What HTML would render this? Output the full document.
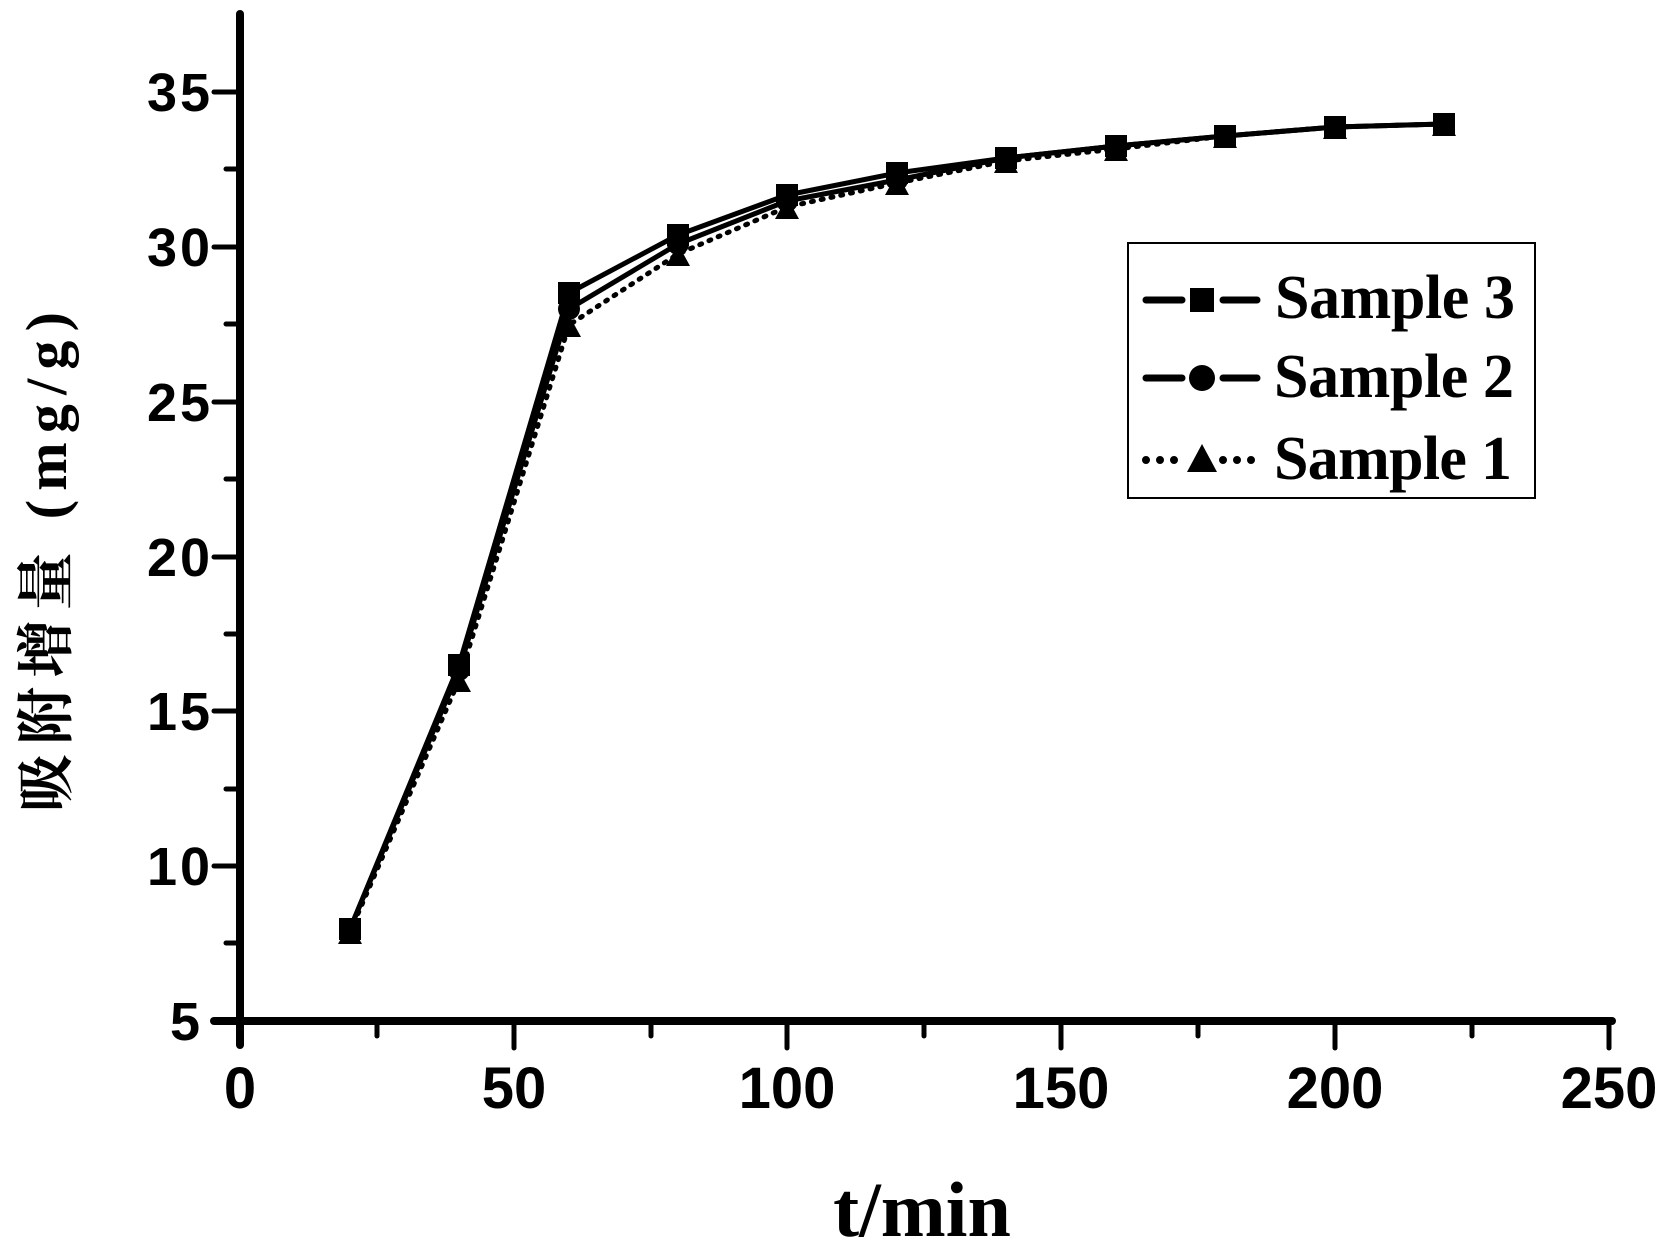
<!DOCTYPE html>
<html><head><meta charset="utf-8"><style>html,body{margin:0;padding:0;background:#fff}svg{display:block}</style></head>
<body>
<svg width="1671" height="1252" viewBox="0 0 1671 1252" xmlns="http://www.w3.org/2000/svg">
<rect width="1671" height="1252" fill="#fff"/>
<g stroke="#000" stroke-linecap="round">
<line x1="240" y1="14" x2="240" y2="1045" stroke-width="8"/>
<line x1="214" y1="1021" x2="1612" y2="1021" stroke-width="8"/>
<!-- y ticks -->
<g stroke-width="5">
<line x1="214" y1="92" x2="240" y2="92"/>
<line x1="214" y1="247" x2="240" y2="247"/>
<line x1="214" y1="402" x2="240" y2="402"/>
<line x1="214" y1="557" x2="240" y2="557"/>
<line x1="214" y1="711" x2="240" y2="711"/>
<line x1="214" y1="866" x2="240" y2="866"/>
<line x1="226" y1="169" x2="240" y2="169"/>
<line x1="226" y1="324" x2="240" y2="324"/>
<line x1="226" y1="479" x2="240" y2="479"/>
<line x1="226" y1="634" x2="240" y2="634"/>
<line x1="226" y1="789" x2="240" y2="789"/>
<line x1="226" y1="943" x2="240" y2="943"/>
<!-- x ticks -->
<line x1="514" y1="1021" x2="514" y2="1048"/>
<line x1="787" y1="1021" x2="787" y2="1048"/>
<line x1="1061" y1="1021" x2="1061" y2="1048"/>
<line x1="1335" y1="1021" x2="1335" y2="1048"/>
<line x1="1609" y1="1021" x2="1609" y2="1048"/>
<line x1="377" y1="1021" x2="377" y2="1036"/>
<line x1="651" y1="1021" x2="651" y2="1036"/>
<line x1="924" y1="1021" x2="924" y2="1036"/>
<line x1="1198" y1="1021" x2="1198" y2="1036"/>
<line x1="1472" y1="1021" x2="1472" y2="1036"/>
</g>
</g>
<g font-family="Liberation Sans, sans-serif" font-weight="bold" font-size="54" text-anchor="end">
<text x="210" y="111" textLength="63">35</text>
<text x="210" y="266" textLength="63">30</text>
<text x="210" y="421" textLength="63">25</text>
<text x="210" y="576" textLength="63">20</text>
<text x="210" y="730" textLength="63">15</text>
<text x="210" y="885" textLength="63">10</text>
<text x="200" y="1040">5</text>
</g>
<g font-family="Liberation Sans, sans-serif" font-weight="bold" font-size="58" text-anchor="middle">
<text x="240" y="1108">0</text>
<text x="514" y="1108">50</text>
<text x="787" y="1108">100</text>
<text x="1061" y="1108">150</text>
<text x="1335" y="1108">200</text>
<text x="1609" y="1108">250</text>
</g>
<text x="922" y="1236" font-family="Liberation Serif, serif" font-weight="bold" font-size="78" text-anchor="middle">t/min</text>
<text transform="translate(66,562) rotate(-90)" font-family="Liberation Serif, 'Noto Serif CJK SC', serif" font-weight="bold" font-size="58" text-anchor="middle" textLength="500">吸附增量 (mg/g)</text>
<!-- series -->
<g fill="none" stroke="#000" stroke-width="5" stroke-linejoin="round">
<polyline stroke-dasharray="2 8" stroke-linecap="round" points="350,880 459,529 569,172 678,104 787,58 897,30 1006,8 1116,-5 1225,-13 1335,-23 1444,-26" transform="translate(0,0)" style="display:none"/>
<polyline stroke-dasharray="2 9" stroke-linecap="round" points="350,876 459,529 569,173 678,102 787,55 897,34 1006,12 1116,1 1225,-11 1335,-21 1444,-24" style="display:none"/>
</g>
<g fill="none" stroke="#000" stroke-width="5" stroke-linejoin="round">
<!-- Sample 1 dotted: y = 1021-(v-5)*30.97 -->
<polyline stroke-dasharray="2 8" stroke-linecap="round" points="350,932 459,680 569,325 678,254 787,207 897,183 1006,161 1116,149 1225,136 1335,127 1444,124"/>
<!-- Sample 2 -->
<polyline points="350,929 459,670 569,309 678,244 787,201 897,180 1006,158 1116,146 1225,136 1335,127 1444,124"/>
<!-- Sample 3 -->
<polyline points="350,929 459,665 569,293 678,235 787,195 897,173 1006,158 1116,146 1225,136 1335,127 1444,124"/>
</g>
<g fill="#000">
<!-- triangles -->
<g>
<polygon points="350,922 338,944 362,944"/><polygon points="459,670 447,692 471,692"/><polygon points="569,315 557,337 581,337"/><polygon points="678,244 666,266 690,266"/><polygon points="787,197 775,219 799,219"/><polygon points="897,173 885,195 909,195"/><polygon points="1006,151 994,173 1018,173"/><polygon points="1116,139 1104,161 1128,161"/><polygon points="1225,126 1213,148 1237,148"/><polygon points="1335,117 1323,139 1347,139"/><polygon points="1444,114 1432,136 1456,136"/>
</g>
<g>
<circle cx="350" cy="929" r="11"/><circle cx="459" cy="670" r="11"/><circle cx="569" cy="309" r="11"/><circle cx="678" cy="244" r="11"/><circle cx="787" cy="201" r="11"/><circle cx="897" cy="180" r="11"/><circle cx="1006" cy="158" r="11"/><circle cx="1116" cy="146" r="11"/><circle cx="1225" cy="136" r="11"/><circle cx="1335" cy="127" r="11"/><circle cx="1444" cy="124" r="11"/>
</g>
<g>
<rect x="339" y="918" width="22" height="22"/><rect x="448" y="654" width="22" height="22"/><rect x="558" y="282" width="22" height="22"/><rect x="667" y="224" width="22" height="22"/><rect x="776" y="184" width="22" height="22"/><rect x="886" y="162" width="22" height="22"/><rect x="995" y="147" width="22" height="22"/><rect x="1105" y="135" width="22" height="22"/><rect x="1214" y="125" width="22" height="22"/><rect x="1324" y="116" width="22" height="22"/><rect x="1433" y="113" width="22" height="22"/>
</g>
</g>
<!-- legend -->
<rect x="1128" y="243" width="407" height="255" fill="#fff" stroke="#000" stroke-width="2"/>
<g stroke="#000" stroke-width="7" stroke-linecap="round">
<line x1="1146" y1="300" x2="1182" y2="300"/><line x1="1223" y1="300" x2="1257" y2="300"/>
<line x1="1146" y1="378" x2="1182" y2="378"/><line x1="1223" y1="378" x2="1257" y2="378"/>
<line x1="1146" y1="460" x2="1182" y2="460" stroke-dasharray="0 14" stroke-width="8"/><line x1="1223" y1="460" x2="1257" y2="460" stroke-dasharray="0 14" stroke-width="8"/>
</g>
<g fill="#000">
<rect x="1190" y="288" width="24" height="24"/>
<circle cx="1202" cy="378" r="13"/>
<polygon points="1202,444 1187,472 1217,472"/>
</g>
<g font-family="Liberation Serif, serif" font-weight="bold" font-size="62">
<text x="1275" y="318" textLength="240">Sample 3</text>
<text x="1274" y="397" textLength="240">Sample 2</text>
<text x="1274" y="479" textLength="238">Sample 1</text>
</g>
</svg>
</body></html>
